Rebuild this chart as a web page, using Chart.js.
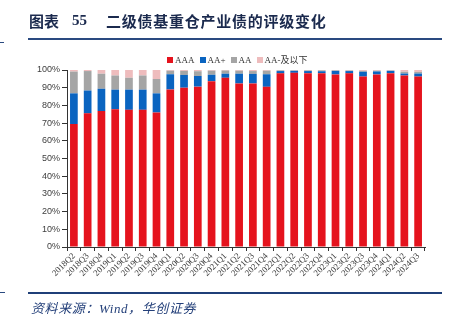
<!DOCTYPE html>
<html>
<head>
<meta charset="utf-8">
<script src="https://cdn.jsdelivr.net/npm/chart.js@4.4.1/dist/chart.umd.min.js"></script>
<style>
  html, body { margin: 0; padding: 0; background: #fff; }
  body { width: 452px; height: 321px; position: relative; overflow: hidden; }
  #c { position: absolute; left: 0; top: 0; }
  .t { position: absolute; font-family: "Noto Sans CJK SC", sans-serif; font-weight: bold; color: #1b2a4e; font-size: 15px; line-height: 15px; white-space: nowrap; }
  .line { position: absolute; background: #2a4a80; }
  #src { position: absolute; left: 31px; top: 302px; font-family: "Liberation Serif", "Noto Sans CJK SC", serif; font-style: italic; font-size: 13px; line-height: 14px; color: #24407a; white-space: nowrap; letter-spacing: 0.6px; }
  #legend { position: absolute; left: 167px; top: 53px; display: flex; align-items: center; font-family: "Liberation Serif", "Noto Sans CJK SC", serif; font-size: 9px; color: #333; white-space: nowrap; }
  .li { display: flex; align-items: center; margin-right: 5px; }
  .sw { width: 6px; height: 6px; margin-right: 2px; }
</style>
</head>
<body>
<canvas id="c" width="452" height="321"></canvas>
<div class="t" style="left:29px; top:13px;">图表</div>
<div class="t" style="left:72px; top:13px; font-family:'Liberation Serif', serif;">55</div>
<div class="t" style="left:106px; top:13px; letter-spacing:0.75px;">二级债基重仓产业债的评级变化</div>
<div class="line" style="left:0px; top:42px; width:4px; height:1px;"></div>
<div class="line" style="left:28px; top:38px; width:414px; height:1.5px;"></div>
<div id="legend"></div>
<div class="line" style="left:0px; top:292px; width:5px; height:1px;"></div>
<div class="line" style="left:28px; top:292px; width:414px; height:2px; background:#1f3f78;"></div>
<div id="src">资料来源：Wind，华创证券</div>
<script>
const categories = ["2018Q2","2018Q3","2018Q4","2019Q1","2019Q2","2019Q3","2019Q4",
  "2020Q1","2020Q2","2020Q3","2020Q4","2021Q1","2021Q2","2021Q3","2021Q4",
  "2022Q1","2022Q2","2022Q3","2022Q4","2023Q1","2023Q2","2023Q3","2023Q4",
  "2024Q1","2024Q2","2024Q3"];
const seriesNames = ["AAA", "AA+", "AA", "AA-及以下"];
const AAA = [69.5,75.5,76.8,77.8,77.5,77.5,76.0,89.0,90.0,90.6,93.7,95.6,92.4,92.4,90.5,98.1,98.4,98.2,98.2,97.5,98.1,96.3,97.5,98.2,96.9,96.3];
const AAplus = [17.3,12.9,12.6,11.1,11.4,11.4,10.8,8.6,7.2,6.0,3.6,2.3,5.5,5.4,7.1,1.3,1.1,1.2,1.1,2.0,1.3,2.7,1.7,1.3,1.1,1.7];
const AA = [12.3,11.0,8.5,8.0,6.7,8.0,8.1,2.0,2.3,2.7,2.3,1.8,1.7,1.6,2.0,0.4,0.3,0.4,0.5,0.3,0.3,0.5,0.4,0.2,1.0,0.9];
const AAminus = [0.9,0.6,2.1,3.1,4.4,3.1,5.1,0.4,0.5,0.7,0.4,0.3,0.4,0.6,0.4,0.2,0.2,0.2,0.2,0.2,0.3,0.5,0.4,0.3,1.0,1.1];
const yTicks = ["0%","10%","20%","30%","40%","50%","60%","70%","80%","90%","100%"];
const colors = ["#e5131d", "#0a64c0", "#a5a5a5", "#eebcbd"];

const seriesData = [AAA, AAplus, AA, AAminus];
const datasets = seriesNames.map((n, i) => ({
  label: n,
  data: seriesData[i],
  backgroundColor: colors[i],
  borderWidth: 0,
  barPercentage: 0.56,
  categoryPercentage: 1.0
}));

const lg = document.getElementById('legend');
seriesNames.forEach((n, i) => {
  const it = document.createElement('div'); it.className = 'li';
  const sw = document.createElement('div'); sw.className = 'sw'; sw.style.background = colors[i];
  const tx = document.createElement('span'); tx.textContent = n;
  it.appendChild(sw); it.appendChild(tx); lg.appendChild(it);
});

new Chart(document.getElementById('c'), {
  type: 'bar',
  data: { labels: categories, datasets },
  options: {
    responsive: false,
    animation: false,
    devicePixelRatio: 1,
    layout: { padding: { left: 27, right: 27, top: 70, bottom: 0 } },
    plugins: { legend: { display: false }, tooltip: { enabled: false } },
    scales: {
      x: {
        stacked: true,
        afterFit: (s) => { s.height = 74; },
        border: { display: true, color: '#333', width: 1 },
        grid: { display: true, drawOnChartArea: false, drawTicks: true, tickLength: 4, color: '#333', offset: true },
        ticks: {
          autoSkip: false, minRotation: 45, maxRotation: 45, padding: 0,
          color: '#404040',
          font: { family: "'Liberation Serif', serif", size: 8.8 }
        }
      },
      y: {
        stacked: true,
        min: 0, max: 100,
        afterFit: (s) => { s.width = 40; },
        border: { display: true, color: '#333', width: 1 },
        grid: { display: true, drawOnChartArea: false, drawTicks: true, tickLength: 5, color: '#333' },
        ticks: {
          stepSize: 10, padding: 2,
          color: '#404040',
          font: { family: "'Liberation Sans', sans-serif", size: 9 },
          callback: (v) => yTicks[Math.round(v / 10)]
        }
      }
    }
  }
});
</script>
</body>
</html>
